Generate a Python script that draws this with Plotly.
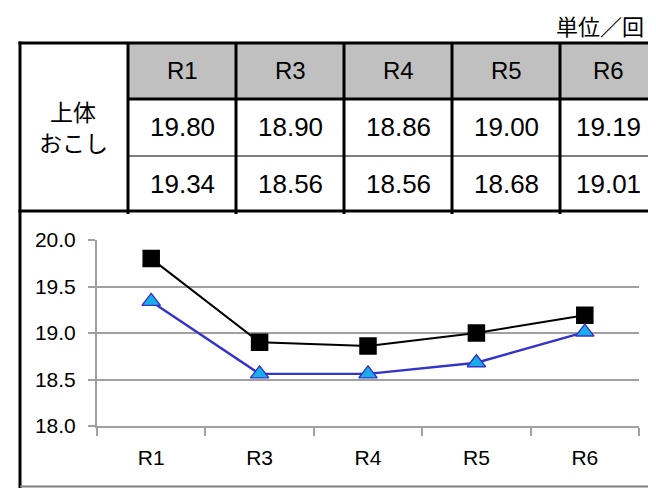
import plotly.graph_objects as go

# ---- data ----
categories = ["R1", "R3", "R4", "R5", "R6"]
series_a = [19.80, 18.90, 18.86, 19.00, 19.19]
series_b = [19.34, 18.56, 18.56, 18.68, 19.01]
row_label_lines = ["上体", "おこし"]
unit_label = "単位／回"
y_ticks = [18.0, 18.5, 19.0, 19.5, 20.0]

SCREEN_W, SCREEN_H = 656, 488
OFF = 8  # page body margin offset
W, H = SCREEN_W - OFF, SCREEN_H - OFF


def px(x):
    return (x - OFF) / W


def py(y):
    return 1 - (y - OFF) / H


FONT = "Liberation Sans, Arial, Noto Sans CJK JP, sans-serif"
JFONT = "Noto Sans CJK JP, sans-serif"

fig = go.Figure()

fig.add_trace(go.Scatter(
    x=categories, y=series_a, mode="lines+markers",
    line=dict(color="#000000", width=2),
    marker=dict(symbol="square", size=16, color="#000000",
                line=dict(color="#000000", width=1.5)),
    showlegend=False, cliponaxis=False,
))
fig.add_trace(go.Scatter(
    x=categories, y=series_b, mode="lines+markers",
    line=dict(color="#3434c8", width=2.4),
    marker=dict(symbol="triangle-up", size=16, color="#19aeea",
                line=dict(color="#3434c8", width=1.4)),
    showlegend=False, cliponaxis=False,
))

# ---- table geometry (screen pixels) ----
top, hdr_bot, row_mid, tbl_bot = 43, 99, 156, 211
left = 20
col_edges = [128, 236, 344, 452, 560, 656]
col_centers = [(col_edges[i] + col_edges[i + 1]) / 2 for i in range(len(categories))]
RIGHT = SCREEN_W + 4

shapes = []
shapes.append(dict(type="rect", xref="paper", yref="paper",
                   x0=px(col_edges[0]), x1=px(RIGHT), y0=py(hdr_bot), y1=py(top),
                   fillcolor="#c0c0c0", line=dict(width=0), layer="below"))


def hline(y, x0, x1, w, c="#000000"):
    shapes.append(dict(type="line", xref="paper", yref="paper",
                       x0=px(x0), x1=px(x1), y0=py(y), y1=py(y),
                       line=dict(color=c, width=w)))


def vline(x, y0, y1, w, c="#000000"):
    shapes.append(dict(type="line", xref="paper", yref="paper",
                       x0=px(x), x1=px(x), y0=py(y0), y1=py(y1),
                       line=dict(color=c, width=w)))


hline(top, left - 1.5, RIGHT, 3)
hline(hdr_bot, col_edges[0], RIGHT, 3)
hline(row_mid, col_edges[0], RIGHT, 1.2)
hline(tbl_bot, left - 1.5, RIGHT, 3)
for x in col_edges[:-1]:
    vline(x, top, tbl_bot + 3, 3)
vline(left, top - 1.5, SCREEN_H + 2, 3)
hline(486.5, left, RIGHT, 2, "#808080")

annotations = []
annotations.append(dict(text=unit_label, xref="paper", yref="paper",
                        x=px(646), y=py(25), xanchor="right", yanchor="middle",
                        showarrow=False, font=dict(family=JFONT, size=22, color="#000")))
for txt, yy in zip(row_label_lines, [111, 142]):
    annotations.append(dict(text=txt, xref="paper", yref="paper",
                            x=px(73), y=py(yy), xanchor="center", yanchor="middle",
                            showarrow=False,
                            font=dict(family=JFONT, size=23, color="#000")))
for i, c in enumerate(categories):
    annotations.append(dict(text=c, xref="paper", yref="paper",
                            x=px(col_centers[i]), y=py(71), xanchor="center", yanchor="middle",
                            showarrow=False, font=dict(family=FONT, size=24, color="#000")))
    annotations.append(dict(text=f"{series_a[i]:.2f}", xref="paper", yref="paper",
                            x=px(col_centers[i]), y=py(127), xanchor="center", yanchor="middle",
                            showarrow=False, font=dict(family=FONT, size=26, color="#000")))
    annotations.append(dict(text=f"{series_b[i]:.2f}", xref="paper", yref="paper",
                            x=px(col_centers[i]), y=py(184), xanchor="center", yanchor="middle",
                            showarrow=False, font=dict(family=FONT, size=26, color="#000")))

fig.update_layout(
    width=W, height=H, autosize=False,
    margin=dict(l=0, r=0, t=0, b=0, pad=0, autoexpand=False),
    paper_bgcolor="#ffffff", plot_bgcolor="#ffffff",
    shapes=shapes, annotations=annotations,
    xaxis=dict(domain=[px(97), px(639)], type="category", automargin=False,
               range=[-0.5, len(categories) - 0.5],
               showgrid=False, showline=True, linecolor="#a0a0a0", linewidth=2,
               ticks="outside", tickson="boundaries", ticklen=8, tickwidth=2,
               tickcolor="#a0a0a0", ticklabelstandoff=12,
               tickfont=dict(family=FONT, size=21, color="#000"), zeroline=False),
    yaxis=dict(domain=[py(426), py(240)], range=[18, 20], automargin=False,
               tickvals=y_ticks, tickformat=".1f",
               showgrid=True, gridcolor="#a0a0a0", gridwidth=2,
               showline=True, linecolor="#a0a0a0", linewidth=2,
               ticks="outside", ticklen=7, tickwidth=2, tickcolor="#a0a0a0",
               ticklabelstandoff=8,
               tickfont=dict(family=FONT, size=21, color="#000"), zeroline=False),
)

fig.write_html("out.html")
